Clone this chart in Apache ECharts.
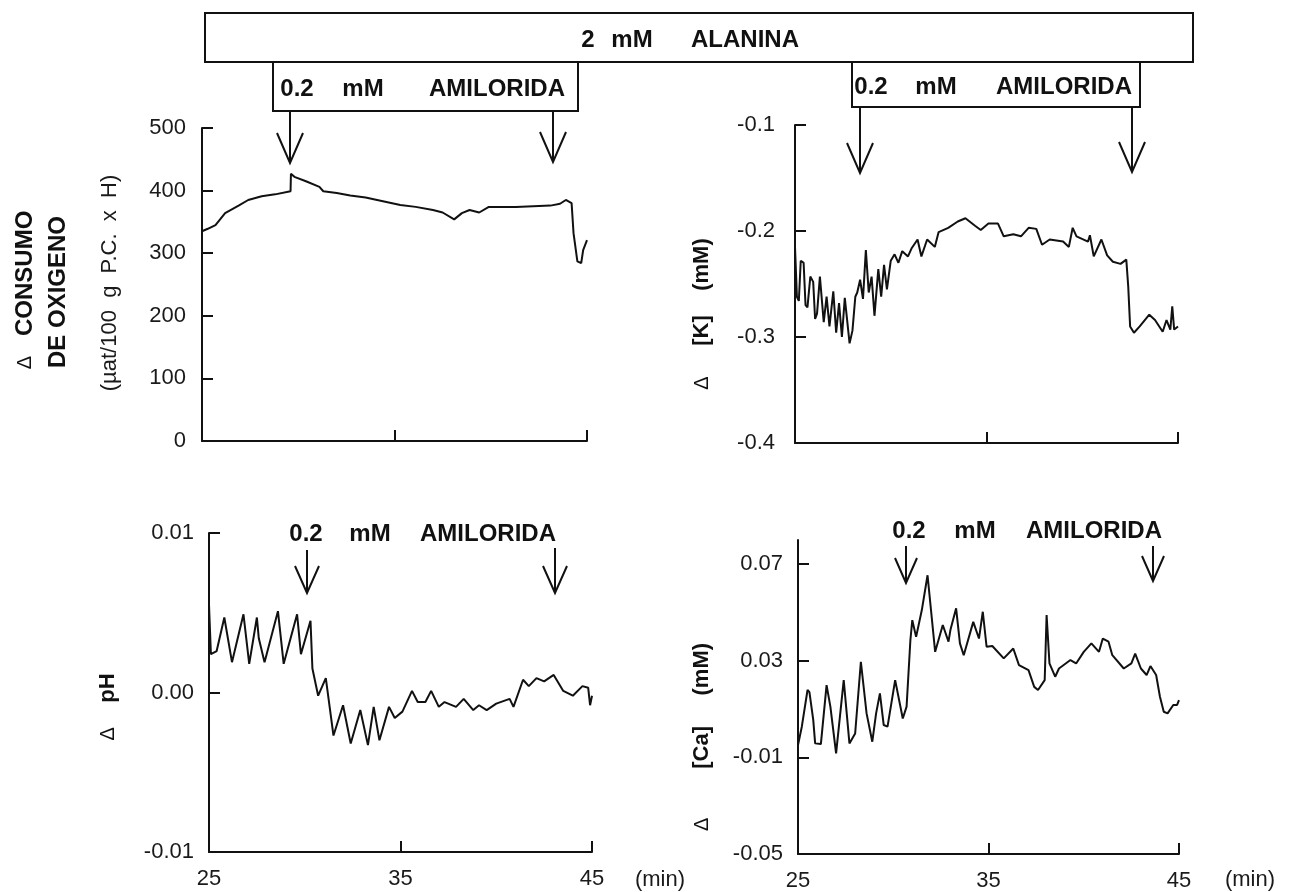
<!DOCTYPE html>
<html>
<head>
<meta charset="utf-8">
<script src="https://cdn.jsdelivr.net/npm/echarts@6/dist/echarts.min.js"></script>
<style>
  html, body { margin: 0; padding: 0; background: #fff; }
  #chart { width: 1298px; height: 892px; }
</style>
</head>
<body>
<div id="chart"></div>
<script>
// Time axis (min)
const timeTicks = [25, 35, 45];
const timeTickMarks = [35, 45];

// Δ O2 consumption (µat/100 g P.C. x H)
const o2Time   = [25.0, 25.3, 25.7, 26.2, 26.9, 27.4, 28.1, 28.8, 29.6, 29.62, 29.8, 30.4, 31.1, 31.3, 32.0, 32.7, 33.5, 34.4, 35.3, 36.1, 37.0, 37.5, 38.1, 38.5, 38.9, 39.4, 39.9, 40.5, 41.3, 42.2, 43.1, 43.6, 43.9, 44.2, 44.3, 44.5, 44.7, 44.8, 45.0];
const o2Values = [335, 339, 345, 364, 376, 385, 391, 394, 399, 427, 422, 415, 406, 399, 396, 392, 389, 383, 377, 374, 369, 365, 354, 364, 369, 365, 374, 374, 374, 375, 376, 379, 385, 380, 332, 287, 284, 305, 321];
const o2Ticks  = [0, 100, 200, 300, 400, 500];

// Δ [K] (mM)
const kTime   = [25.0, 25.1, 25.2, 25.3, 25.45, 25.55, 25.65, 25.8, 25.95, 26.05, 26.15, 26.3, 26.5, 26.65, 26.8, 27.0, 27.15, 27.3, 27.45, 27.6, 27.85, 28.0, 28.15, 28.25, 28.4, 28.55, 28.7, 28.85, 29.0, 29.15, 29.35, 29.5, 29.65, 29.8, 30.0, 30.2, 30.4, 30.6, 30.9, 31.1, 31.4, 31.6, 31.9, 32.3, 32.5, 33.0, 33.5, 33.9, 34.4, 34.7, 35.1, 35.6, 35.9, 36.4, 36.8, 37.2, 37.6, 37.9, 38.3, 39.0, 39.3, 39.5, 39.7, 40.3, 40.4, 40.6, 41.0, 41.3, 41.6, 42.0, 42.3, 42.4, 42.5, 42.7, 43.0, 43.5, 43.8, 44.2, 44.4, 44.6, 44.7, 44.8, 45.0];
const kValues = [-0.215, -0.262, -0.266, -0.228, -0.230, -0.270, -0.272, -0.243, -0.248, -0.283, -0.278, -0.243, -0.286, -0.262, -0.290, -0.257, -0.296, -0.268, -0.300, -0.263, -0.306, -0.294, -0.262, -0.258, -0.246, -0.264, -0.218, -0.258, -0.243, -0.280, -0.236, -0.262, -0.232, -0.255, -0.228, -0.222, -0.230, -0.219, -0.224, -0.216, -0.208, -0.224, -0.208, -0.215, -0.201, -0.197, -0.191, -0.188, -0.195, -0.199, -0.193, -0.193, -0.205, -0.203, -0.205, -0.197, -0.198, -0.213, -0.208, -0.210, -0.215, -0.197, -0.205, -0.210, -0.204, -0.224, -0.208, -0.223, -0.229, -0.231, -0.227, -0.252, -0.290, -0.296, -0.290, -0.279, -0.284, -0.295, -0.284, -0.293, -0.271, -0.293, -0.290];
const kTicks  = [-0.4, -0.3, -0.2, -0.1];

// Δ pH
const phTime   = [25.0, 25.1, 25.4, 25.8, 26.2, 26.8, 27.1, 27.5, 27.6, 27.9, 28.6, 28.9, 29.6, 29.8, 30.3, 30.4, 30.7, 31.1, 31.5, 32.0, 32.4, 32.9, 33.3, 33.6, 33.9, 34.4, 34.7, 35.1, 35.6, 35.9, 36.3, 36.6, 37.0, 37.3, 37.9, 38.3, 38.8, 39.1, 39.5, 40.0, 40.7, 40.9, 41.4, 41.7, 42.1, 42.5, 43.0, 43.5, 44.0, 44.5, 44.8, 44.9, 45.0];
const phValues = [0.0055, 0.0024, 0.0026, 0.0047, 0.0019, 0.0049, 0.0018, 0.0047, 0.0034, 0.0019, 0.0051, 0.0018, 0.0049, 0.0024, 0.0045, 0.0015, -0.0002, 0.0009, -0.0027, -0.0008, -0.0032, -0.0011, -0.0033, -0.0009, -0.0030, -0.0009, -0.0016, -0.0012, 0.0001, -0.0006, -0.0006, 0.0001, -0.0009, -0.0006, -0.0009, -0.0004, -0.0011, -0.0008, -0.0011, -0.0007, -0.0004, -0.0009, 0.0008, 0.0004, 0.0009, 0.0007, 0.0011, 0.0001, -0.0002, 0.0004, 0.0003, -0.0008, -0.0002];
const phTicks  = [-0.01, 0, 0.01];

// Δ [Ca] (mM)
const caTime   = [25.0, 25.2, 25.5, 25.6, 25.8, 25.9, 26.2, 26.5, 26.7, 27.0, 27.4, 27.7, 28.0, 28.3, 28.6, 28.9, 29.1, 29.3, 29.5, 29.7, 30.1, 30.5, 30.7, 30.9, 31.0, 31.2, 31.5, 31.8, 32.2, 32.6, 32.9, 33.0, 33.3, 33.5, 33.7, 34.2, 34.5, 34.7, 34.9, 35.2, 35.8, 36.3, 36.6, 37.1, 37.4, 37.6, 37.95, 38.05, 38.2, 38.5, 38.7, 39.3, 39.6, 40.0, 40.4, 40.8, 41.0, 41.3, 41.5, 42.1, 42.5, 42.7, 43.0, 43.3, 43.5, 43.8, 44.0, 44.2, 44.4, 44.7, 44.9, 45.0];
const caValues = [-0.0049, 0.0027, 0.0179, 0.0170, 0.0055, -0.0042, -0.0045, 0.0199, 0.0110, -0.0083, 0.0220, -0.0042, -0.0001, 0.0296, 0.0082, -0.0035, 0.0082, 0.0165, 0.0034, 0.0027, 0.0220, 0.0061, 0.0110, 0.0386, 0.0468, 0.0399, 0.0510, 0.0654, 0.0337, 0.0448, 0.0379, 0.0427, 0.0517, 0.0372, 0.0323, 0.0461, 0.0392, 0.0503, 0.0358, 0.0361, 0.0310, 0.0351, 0.0282, 0.0261, 0.0192, 0.0179, 0.0220, 0.0489, 0.0289, 0.0234, 0.0268, 0.0303, 0.0289, 0.0337, 0.0372, 0.0337, 0.0392, 0.0379, 0.0323, 0.0268, 0.0289, 0.0330, 0.0268, 0.0241, 0.0278, 0.0241, 0.0151, 0.0089, 0.0082, 0.0117, 0.0117, 0.0137];
const caTicks  = [-0.05, -0.01, 0.03, 0.07];

const INK = '#111';
const FONT = '"Liberation Sans", Arial, Helvetica, sans-serif';

const pairs = (xs, ys) => xs.map((x, i) => [x, ys[i]]);

function timeAxis(gridIndex, withLabels) {
  return {
    type: 'value', gridIndex, min: 25, max: 45,
    axisLine: { show: true, onZero: false, lineStyle: { color: INK, width: 2 } },
    axisTick: { show: true, inside: true, length: 11, customValues: timeTickMarks, lineStyle: { color: INK, width: 2 } },
    axisLabel: { show: withLabels, customValues: timeTicks, margin: 16, color: '#1a1a1a', fontSize: 22, fontFamily: FONT },
    splitLine: { show: false }
  };
}

function valueAxis(gridIndex, min, max, ticks, digits, margin) {
  return {
    type: 'value', gridIndex, min, max,
    axisLine: { show: true, onZero: false, lineStyle: { color: INK, width: 2 } },
    axisTick: { show: true, inside: true, length: 11, customValues: ticks, lineStyle: { color: INK, width: 2 } },
    axisLabel: {
      customValues: ticks, margin, color: '#1a1a1a', fontSize: 22, fontFamily: FONT,
      formatter: v => Number(v).toFixed(digits)
    },
    splitLine: { show: false }
  };
}

function trace(i, data) {
  return {
    type: 'line', xAxisIndex: i, yAxisIndex: i, data,
    showSymbol: false, silent: true, animation: false,
    lineStyle: { color: INK, width: 2 }
  };
}

// annotation helpers
function box(x, y, w, h) {
  return { type: 'rect', shape: { x, y, width: w, height: h }, style: { fill: 'none', stroke: INK, lineWidth: 2 } };
}
function word(text, cx, cy) {
  return { type: 'text', x: cx, y: cy, style: { text, font: 'bold 24px ' + FONT, fill: INK, textAlign: 'center', align: 'center', textVerticalAlign: 'middle', verticalAlign: 'middle' } };
}
function label(text, x, y, size) {
  return { type: 'text', x, y, style: { text, font: 'normal ' + size + 'px ' + FONT, fill: '#1a1a1a', textAlign: 'center', align: 'center', textVerticalAlign: 'middle', verticalAlign: 'middle' } };
}
function arrow(x, y0, tip, head, spread) {
  return [
    { type: 'line', shape: { x1: x, y1: y0, x2: x, y2: tip }, style: { stroke: INK, lineWidth: 2 } },
    { type: 'polyline', shape: { points: [[x - spread, tip - head], [x, tip], [x + spread, tip - head]] }, style: { stroke: INK, lineWidth: 2, fill: 'none' } }
  ];
}
const richTitle = {
  d: { font: 'normal 20px ' + FONT, fill: INK },
  b: { font: 'bold 22px ' + FONT, fill: INK },
  B: { font: 'bold 24px ' + FONT, fill: INK },
  r: { font: 'normal 22px ' + FONT, fill: '#1a1a1a' }
};
function vtitle(x, y, text) {
  return { type: 'text', x, y, rotation: Math.PI / 2, style: { text, rich: richTitle, fill: INK, textAlign: 'center', align: 'center', textVerticalAlign: 'middle', verticalAlign: 'middle' } };
}

const chart = echarts.init(document.getElementById('chart'), null, { renderer: 'canvas' });

chart.setOption({
  animation: false,
  backgroundColor: '#fff',
  grid: [
    { left: 202, top: 128, width: 385, height: 313 },
    { left: 795, top: 125, width: 383, height: 318 },
    { left: 209, top: 533, width: 383, height: 319 },
    { left: 798, top: 540, width: 381, height: 314 }
  ],
  xAxis: [timeAxis(0, false), timeAxis(1, false), timeAxis(2, true), timeAxis(3, true)],
  yAxis: [
    valueAxis(0, 0, 500, o2Ticks, 0, 16),
    valueAxis(1, -0.4, -0.1, kTicks, 1, 20),
    valueAxis(2, -0.01, 0.01, phTicks, 2, 15),
    valueAxis(3, -0.05, 0.08, caTicks, 2, 15)
  ],
  series: [
    trace(0, pairs(o2Time, o2Values)),
    trace(1, pairs(kTime, kValues)),
    trace(2, pairs(phTime, phValues)),
    trace(3, pairs(caTime, caValues))
  ],
  graphic: { elements: [
    // alanine period
    box(205, 13, 988, 49),
    word('2', 588, 40), word('mM', 632, 40), word('ALANINA', 745, 40),
    // amiloride periods, upper panels
    box(273, 62, 305, 49),
    word('0.2', 297, 89), word('mM', 363, 89), word('AMILORIDA', 497, 89),
    box(852, 62, 288, 45),
    word('0.2', 871, 87), word('mM', 936, 87), word('AMILORIDA', 1064, 87),
    ...arrow(290, 111, 163, 30, 13),
    ...arrow(553, 111, 162, 30, 13),
    ...arrow(860, 107, 173, 30, 13),
    ...arrow(1132, 107, 172, 30, 13),
    // amiloride periods, lower panels
    word('0.2', 306, 534), word('mM', 370, 534), word('AMILORIDA', 488, 534),
    ...arrow(307, 550, 593, 27, 12),
    ...arrow(555, 548, 593, 27, 12),
    word('0.2', 909, 531), word('mM', 975, 531), word('AMILORIDA', 1094, 531),
    ...arrow(906, 546, 583, 25, 11),
    ...arrow(1153, 546, 581, 25, 11),
    // axis titles
    vtitle(25, 290, '{d|Δ}{B|   CONSUMO}'),
    vtitle(58, 292, '{B|DE OXIGENO}'),
    vtitle(110, 283, '{r|(µat/100  g  P.C.  x  H)}'),
    vtitle(702, 314, '{d|Δ}{b|     [K]    (mM)}'),
    vtitle(108, 707, '{d|Δ}{b|    pH}'),
    vtitle(702, 737, '{d|Δ}{b|        [Ca]     (mM)}'),
    label('(min)', 660, 880, 22),
    label('(min)', 1250, 880, 22)
  ] }
});
</script>
</body>
</html>
